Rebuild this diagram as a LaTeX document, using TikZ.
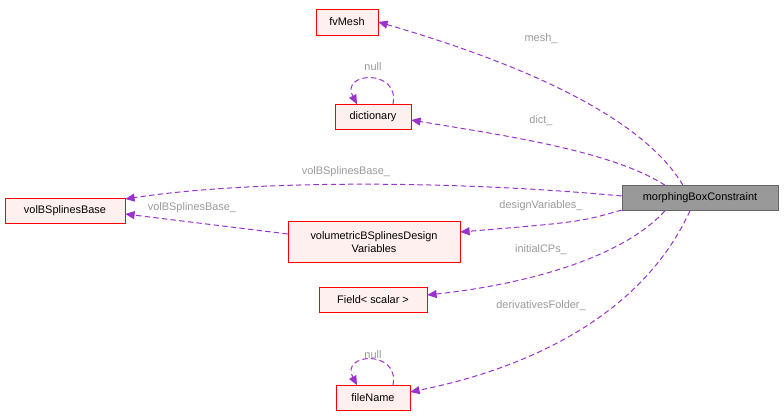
\documentclass[tikz,border=0pt]{standalone}
\usepackage{fontspec}
\setmainfont{Liberation Sans}
\usetikzlibrary{arrows.meta}
\definecolor{edge}{HTML}{9A32CD}
\definecolor{lbl}{HTML}{9A9A9A}
\definecolor{nfill}{HTML}{FFF0F0}
\begin{document}
\begin{tikzpicture}[x=0.75pt,y=-0.75pt,
  box/.style={draw=red,fill=nfill,font=\fontsize{8.2}{9.7}\selectfont,inner sep=0pt,align=center},
  e/.style={draw=edge,line width=0.75pt,dash pattern=on 4pt off 2.5pt,-{Triangle[length=7pt,width=6pt]},fill=none},
  l/.style={text=lbl,font=\fontsize{8.2}{9.7}\selectfont}]
\useasboundingbox (0,0) rectangle (784,416);
\node[box,minimum width=62*0.75pt,minimum height=26*0.75pt] (fv) at (347,22) {fvMesh};
\node[box,minimum width=76*0.75pt,minimum height=25*0.75pt] (di) at (373,117) {dictionary};
\node[box,minimum width=120*0.75pt,minimum height=25*0.75pt] (vb) at (65,211) {volBSplinesBase};
\node[box,minimum width=172*0.75pt,minimum height=41*0.75pt] (vd) at (374,242) {volumetricBSplinesDesign\\Variables};
\node[box,minimum width=108*0.75pt,minimum height=25*0.75pt] (fs) at (373,300) {Field< scalar >};
\node[box,minimum width=74*0.75pt,minimum height=25*0.75pt] (fn) at (373,398) {fileName};
\node[box,draw=black!60,fill=black!40,minimum width=156*0.75pt,minimum height=25*0.75pt] (mb) at (700,198) {morphingBoxConstraint};

\draw[e] ([xshift=-17*0.75pt]mb.north) .. controls (650,130) and (560,75) .. (fv.east);
\node[l] at (541,39) {mesh\_};
\draw[e] ([xshift=-35*0.75pt]mb.north) .. controls (610,150) and (500,135) .. ([yshift=-3*0.75pt]di.east);
\node[l] at (541,121) {dict\_};
\draw[e] ([yshift=2*0.75pt]mb.west) .. controls (450,180) and (250,180) .. ([yshift=12*0.75pt]vb.east);
\node[l] at (346,172) {volBSplinesBase\_};
\draw[e] ([yshift=-12*0.75pt]mb.west) .. controls (580,222) .. ([yshift=10*0.75pt]vd.east);
\node[l] at (541,206) {designVariables\_};
\draw[e] ([xshift=-35*0.75pt]mb.south) .. controls (620,260) and (520,285) .. ([yshift=5*0.75pt]fs.east);
\node[l] at (541,250) {initialCPs\_};
\draw[e] ([xshift=-10*0.75pt]mb.south) .. controls (640,320) and (520,370) .. ([yshift=6*0.75pt]fn.east);
\node[l] at (541,306) {derivativesFolder\_};
\draw[e] ([yshift=8*0.75pt]vd.west) -- ([yshift=-3*0.75pt]vb.east);
\node[l] at (192,208) {volBSplinesBase\_};
\draw[e] ([xshift=20*0.75pt]di.north) .. controls (400,68) and (340,72) .. ([xshift=-16*0.75pt]di.north);
\node[l] at (373,67) {null};
\draw[e] ([xshift=20*0.75pt]fn.north) .. controls (400,349) and (340,353) .. ([xshift=-16*0.75pt]fn.north);
\node[l] at (373,355) {null};
\end{tikzpicture}
\end{document}
